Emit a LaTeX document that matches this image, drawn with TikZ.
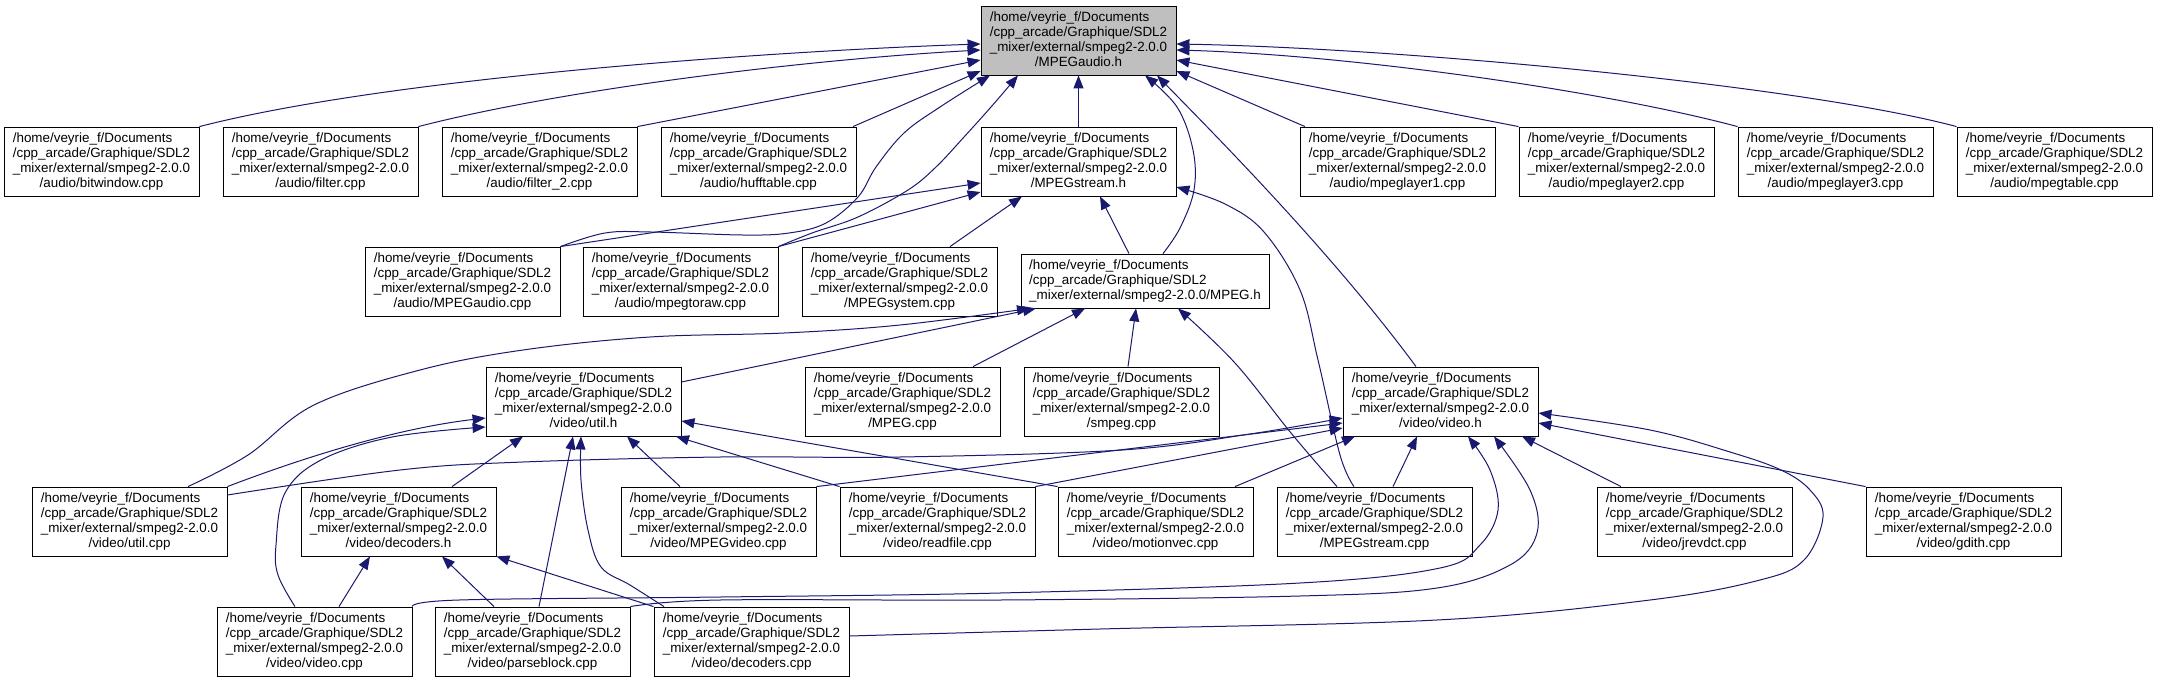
\documentclass[tikz,border=0pt]{standalone}
\usepackage{fontspec}
\setmainfont{Liberation Sans}
\usetikzlibrary{arrows.meta}
\definecolor{edgeblue}{HTML}{191970}
\definecolor{hdrgray}{HTML}{BFBFBF}
\newcommand{\lab}[1]{\begin{tabular}{@{}l@{}}/home/veyrie\_f/Documents\\/cpp\_arcade/Graphique/SDL2\\\_mixer/external/smpeg2-2.0.0\\\multicolumn{1}{@{}c@{}}{#1}\end{tabular}}
\tikzset{
  box/.style={draw=black, line width=0.85pt, fill=white, minimum width=195pt, minimum height=69pt,
    inner sep=0pt, align=center, font=\fontsize{13.4}{15}\selectfont},
  hdr/.style={box, fill=hdrgray},
  edge/.style={draw=edgeblue, line width=1pt, -{Triangle[length=13pt,width=10pt]}},
}
\begin{document}
\begin{tikzpicture}[x=1pt,y=-1pt]
\useasboundingbox[fill=white] (0,0) rectangle (2157,683);
% row A
\node[hdr] (mpegaudioh) at (1078.5,40.5) {\lab{/MPEGaudio.h}};
% row B
\node[box] (bitwindow) at (101.5,161.5) {\lab{/audio/bitwindow.cpp}};
\node[box] (filter) at (320.5,161.5) {\lab{/audio/filter.cpp}};
\node[box] (filtertwo) at (539.5,161.5) {\lab{/audio/filter\_2.cpp}};
\node[box] (hufftable) at (758.5,161.5) {\lab{/audio/hufftable.cpp}};
\node[box] (mpegstreamh) at (1078.5,161.5) {\lab{/MPEGstream.h}};
\node[box] (layerone) at (1397.5,161.5) {\lab{/audio/mpeglayer1.cpp}};
\node[box] (layertwo) at (1616.5,161.5) {\lab{/audio/mpeglayer2.cpp}};
\node[box] (layerthree) at (1835.5,161.5) {\lab{/audio/mpeglayer3.cpp}};
\node[box] (mpegtable) at (2054.5,161.5) {\lab{/audio/mpegtable.cpp}};
% row C
\node[box] (mpegaudiocpp) at (462.5,281.5) {\lab{/audio/MPEGaudio.cpp}};
\node[box] (mpegtoraw) at (680.5,281.5) {\lab{/audio/mpegtoraw.cpp}};
\node[box] (mpegsystem) at (899.5,281.5) {\lab{/MPEGsystem.cpp}};
\node[box, minimum width=248pt, minimum height=54pt] (mpegh) at (1145,281) {\begin{tabular}{@{}l@{}}/home/veyrie\_f/Documents\\/cpp\_arcade/Graphique/SDL2\\\_mixer/external/smpeg2-2.0.0/MPEG.h\end{tabular}};
% row D
\node[box] (utilh) at (583.5,401.5) {\lab{/video/util.h}};
\node[box] (mpegcpp) at (902.5,401.5) {\lab{/MPEG.cpp}};
\node[box] (smpeg) at (1121.5,401.5) {\lab{/smpeg.cpp}};
\node[box] (videoh) at (1440.5,401.5) {\lab{/video/video.h}};
% row E
\node[box] (utilcpp) at (129.5,521.5) {\lab{/video/util.cpp}};
\node[box] (decodersh) at (398.5,521.5) {\lab{/video/decoders.h}};
\node[box] (mpegvideo) at (718.5,521.5) {\lab{/video/MPEGvideo.cpp}};
\node[box] (readfile) at (937.5,521.5) {\lab{/video/readfile.cpp}};
\node[box] (motionvec) at (1155.5,521.5) {\lab{/video/motionvec.cpp}};
\node[box] (mpegstreamcpp) at (1374.5,521.5) {\lab{/MPEGstream.cpp}};
\node[box] (jrevdct) at (1694.5,521.5) {\lab{/video/jrevdct.cpp}};
\node[box] (gdith) at (1963.5,521.5) {\lab{/video/gdith.cpp}};
% row F
\node[box] (videocpp) at (314.5,641.5) {\lab{/video/video.cpp}};
\node[box] (parseblock) at (532.5,641.5) {\lab{/video/parseblock.cpp}};
\node[box] (decoderscpp) at (751.5,641.5) {\lab{/video/decoders.cpp}};

% ---- edges into MPEGaudio.h
\draw[edge] (bitwindow.north east) .. controls (400,75) and (800,50) .. (mpegaudioh.west |- 0,44);
\draw[edge] (filter.north east) .. controls (560,90) and (800,60) .. (mpegaudioh.west |- 0,50);
\draw[edge] (filtertwo.north east) -- (mpegaudioh.west |- 0,60);
\draw[edge] (hufftable.north -| 853,0) -- (mpegaudioh.west |- 0,71);
\draw[edge] (mpegstreamh.north) -- (mpegaudioh.south);
\draw[edge] (layerone.north -| 1305,0) -- (mpegaudioh.east |- 0,71);
\draw[edge] (layertwo.north west) -- (mpegaudioh.east |- 0,60);
\draw[edge] (layerthree.north west) .. controls (1600,90) and (1350,55) .. (mpegaudioh.east |- 0,50);
\draw[edge] (mpegtable.north west) .. controls (1800,85) and (1400,48) .. (mpegaudioh.east |- 0,44);
\draw[edge] plot[smooth,tension=0.6] coordinates {(mpegaudiocpp.north east) (605,233) (651,232) (743,235) (789,233) (826,223) (858,197) (876,167) (904,133) (940,107) (mpegaudioh.south -| 990,0)};
\draw[edge] plot[smooth,tension=0.6] coordinates {(mpegtoraw.north east) (812,233) (858,217) (908,190) (936,167) (964,137) (991,107) (mpegaudioh.south -| 1018,0)};
\draw[edge] plot[smooth,tension=0.6] coordinates {(mpegh.north -| 1163,0) (1180,228) (1194,190) (1193,150) (1177,107) (mpegaudioh.south -| 1145,0)};
\draw[edge] (videoh.north -| 1416,0) .. controls (1330,250) and (1210,130) .. (mpegaudioh.south -| 1157,0);
% ---- edges into MPEGstream.h
\draw[edge] (mpegaudiocpp.north east) -- (mpegstreamh.west |- 0,183);
\draw[edge] (mpegtoraw.north east) -- (mpegstreamh.west |- 0,192);
\draw[edge] (mpegsystem.north -| 950,0) -- (mpegstreamh.south -| 1022,0);
\draw[edge] (mpegh.north -| 1129,0) -- (mpegstreamh.south -| 1100,0);
\draw[edge] plot[smooth,tension=0.6] coordinates {(mpegstreamcpp.north -| 1354,0) (1340,455) (1318,360) (1300,290) (1264,232) (1225,204) (mpegstreamh.east |- 0,187)};
% ---- edges into MPEG.h
\draw[edge] (mpegcpp.north -| 973,0) -- (mpegh.south -| 1085,0);
\draw[edge] (smpeg.north -| 1128,0) -- (mpegh.south -| 1136,0);
\draw[edge] plot[smooth,tension=0.6] coordinates {(mpegstreamcpp.north -| 1337,0) (1291,433) (1235,363) (mpegh.south -| 1178,0)};
\draw[edge] (utilh.east |- 0,382) -- (mpegh.south -| 1036,0);
\draw[edge] plot[smooth,tension=0.6] coordinates {(utilcpp.north -| 188,0) (248,455) (314,405) (420,370) (523,350) (650,337) (784,333) (900,325) (mpegh.south -| 1030,0)};
% ---- edges into util.h
\draw[edge] (utilcpp.north east) .. controls (310,455) and (400,428) .. (utilh.west |- 0,418);
\draw[edge] plot[smooth,tension=0.6] coordinates {(videocpp.north -| 295,0) (278,575) (276,545) (285,493) (321,460) (392,437) (utilh.west |- 0,427)};
\draw[edge] (decodersh.north -| 452,0) -- (utilh.south -| 523,0);
\draw[edge] (parseblock.north -| 539,0) -- (utilh.south -| 573,0);
\draw[edge] plot[smooth,tension=0.6] coordinates {(decoderscpp.north -| 664,0) (630,585) (601,567) (588,530) (581,480) (utilh.south -| 581,0)};
\draw[edge] (mpegvideo.north -| 680,0) -- (utilh.south -| 627,0);
\draw[edge] (readfile.north west) -- (utilh.south -| 676,0);
\draw[edge] (motionvec.north west) -- (utilh.east |- 0,421);
% ---- edges into decoders.h
\draw[edge] (videocpp.north -| 339,0) -- (decodersh.south -| 370,0);
\draw[edge] (parseblock.north -| 494,0) -- (decodersh.south -| 442,0);
\draw[edge] (decoderscpp.north west) -- (decodersh.south east);
% ---- edges into video.h
\draw[edge] plot[smooth,tension=0.6] coordinates {(utilcpp.east |- 0,495) (400,470) (523,462) (720,457) (900,457) (1122,450) (1250,434) (videoh.west |- 0,418)};
\draw[edge] (mpegvideo.north east) -- (videoh.west |- 0,423);
\draw[edge] (readfile.north east) -- (videoh.west |- 0,428);
\draw[edge] (motionvec.north -| 1235,0) -- (videoh.south -| 1355,0);
\draw[edge] (mpegstreamcpp.north -| 1393,0) -- (videoh.south -| 1417,0);
\draw[edge] (jrevdct.north -| 1621,0) -- (videoh.south -| 1522,0);
\draw[edge] (gdith.north west) -- (videoh.east |- 0,423);
\draw[edge] plot[smooth,tension=0.6] coordinates {(videocpp.north east) (459,600) (720,597) (1000,593) (1300,583) (1440,568) (1480,545) (1498,510) (1490,470) (videoh.south -| 1468,0)};
\draw[edge] plot[smooth,tension=0.6] coordinates {(parseblock.north east) (720,600) (1000,600) (1300,596) (1437,588) (1510,565) (1537,533) (1530,490) (videoh.south -| 1494,0)};
\draw[edge] plot[smooth,tension=0.6] coordinates {(decoderscpp.east |- 0,636) (1100,629) (1437,620) (1650,600) (1760,580) (1804,560) (1823,517) (1810,490) (1781,470) (1730,452) (1650,430) (videoh.east |- 0,413)};
\end{tikzpicture}
\end{document}
